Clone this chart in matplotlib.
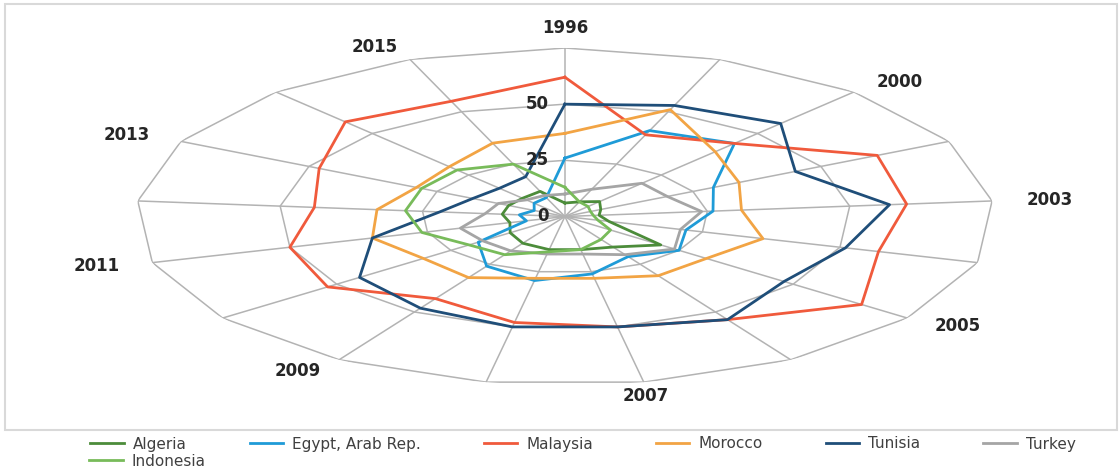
import numpy as np
import matplotlib
matplotlib.use("Agg")
import matplotlib.pyplot as plt
from matplotlib.patches import Rectangle

# Governance scores by year (radar chart, one spoke per year)
years = [1996, 1998, 2000, 2002, 2003, 2004, 2005, 2006, 2007,
         2008, 2009, 2010, 2011, 2012, 2013, 2014, 2015]
algeria = [6, 7, 9, 7, 6, 8, 21, 16, 15, 15, 14, 12, 10, 11, 11, 11, 12]
egypt = [26, 41, 44, 29, 26, 22, 25, 21, 26, 29, 26, 19, 7, 8, 6, 8, 9]
malaysia = [62, 39, 44, 61, 60, 57, 65, 54, 50, 48, 43, 52, 50, 44, 48, 57, 55]
morocco = [37, 51, 39, 34, 31, 36, 31, 31, 28, 28, 32, 31, 35, 33, 29, 30, 35]
tunisia = [50, 53, 56, 45, 57, 51, 48, 54, 50, 50, 48, 45, 35, 22, 18, 17, 19]
turkey = [10, 13, 20, 20, 24, 21, 24, 20, 17, 17, 18, 18, 19, 14, 13, 10, 10]
indonesia = [13, 7, 6, 5, 5, 6, 10, 12, 15, 16, 20, 21, 26, 28, 28, 28, 25]

series = [("Algeria", algeria, "#4c8c3a"),
          ("Egypt, Arab Rep.", egypt, "#1f9bd7"),
          ("Malaysia", malaysia, "#f05a3c"),
          ("Morocco", morocco, "#f2a444"),
          ("Tunisia", tunisia, "#1f4e79"),
          ("Turkey", turkey, "#a5a5a5"),
          ("Indonesia", indonesia, "#78bb5a")]

ring_values = [25, 50, 75]
axis_labels = [0, 25, 50]
grid_c = "#b3b3b3"

fig = plt.figure(figsize=(11.2, 4.71), dpi=100)
ax = fig.add_axes([0.1214, 0.1826, 0.766, 0.7155], projection="polar")
ax.set_aspect("auto")
ax.set_theta_zero_location("N")
ax.set_theta_direction(-1)
ax.set_ylim(0, 75)
ax.grid(False)
ax.set_xticks([])
ax.set_yticks([])
ax.spines["polar"].set_visible(False)

n = len(years)
angles = np.linspace(0, 2 * np.pi, n, endpoint=False)
closed = np.append(angles, angles[0])

# polygon grid + spokes
for r in ring_values:
    ax.plot(closed, [r] * (n + 1), color=grid_c, lw=1.1, zorder=1)
for a in angles:
    ax.plot([a, a], [0, 75], color=grid_c, lw=1.1, zorder=1)

handles = {}
for name, vals, col in series:
    h, = ax.plot(closed, vals + vals[:1], color=col, lw=2, zorder=3)
    handles[name] = h

# every other year gets a label, placed just outside the outer ring
for i, yr in enumerate(years):
    if i % 2:
        continue
    s = np.sin(angles[i])
    c = np.cos(angles[i])
    if abs(s) < 0.3:
        ha = "center"
        va = "bottom" if c > 0 else "top"
        r_lab = 80 if c > 0 else 77
    else:
        ha = "left" if s > 0 else "right"
        va = "center"
        r_lab = 81
    ax.text(angles[i], r_lab, str(yr), ha=ha, va=va, fontsize=12,
            fontweight="bold", color="#262626", clip_on=False)

for r in axis_labels:
    ax.annotate(str(r), xy=(0, r), xytext=(-12, 0), textcoords="offset points",
                ha="right", va="center", fontsize=12, fontweight="bold",
                color="#262626", zorder=4)

names = [s[0] for s in series]
fig.legend([handles[k] for k in names[:6]], names[:6], ncol=6, loc="center",
           bbox_to_anchor=(0.5205, 1 - 444 / 471), frameon=False, fontsize=11,
           handlelength=2.2, handletextpad=0.6, columnspacing=4.1,
           borderpad=0.1, labelcolor="#404040")
fig.legend([handles["Indonesia"]], ["Indonesia"], loc="center left",
           bbox_to_anchor=(80 / 1120, 1 - 461 / 471), frameon=False, fontsize=11,
           handlelength=2.2, handletextpad=0.6, borderpad=0.1,
           labelcolor="#404040")

fig.patches.append(Rectangle((5 / 1120, 1 - 430 / 471), 1112 / 1120, 426 / 471,
                             transform=fig.transFigure, fill=False,
                             ec="#d9d9d9", lw=1.5))

fig.savefig("out.png", dpi=100)
